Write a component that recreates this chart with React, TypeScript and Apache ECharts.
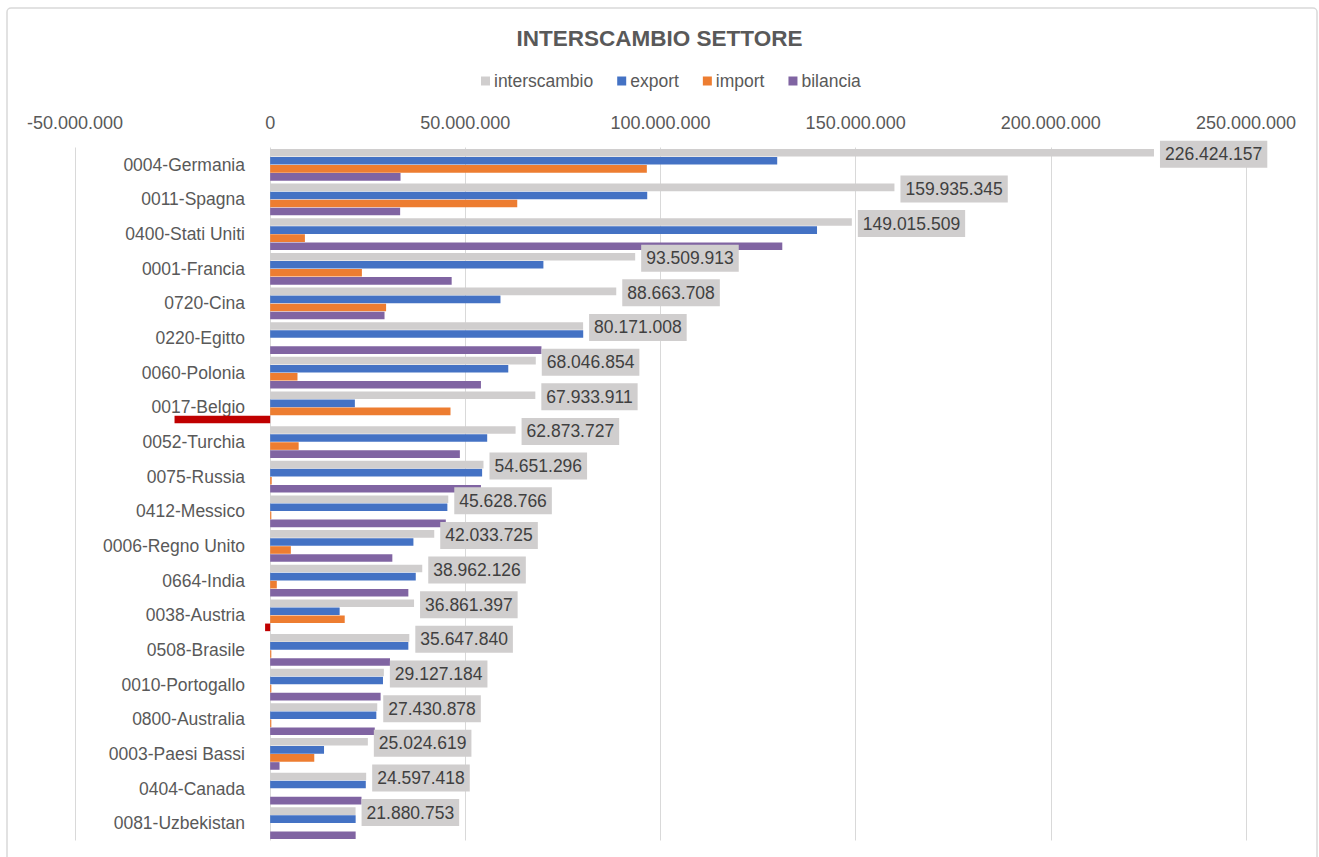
import React, { useEffect, useRef } from "react";
import * as echarts from "echarts";

const categories = [
  "0004-Germania", "0011-Spagna", "0400-Stati Uniti", "0001-Francia", "0720-Cina",
  "0220-Egitto", "0060-Polonia", "0017-Belgio", "0052-Turchia", "0075-Russia",
  "0412-Messico", "0006-Regno Unito", "0664-India", "0038-Austria", "0508-Brasile",
  "0010-Portogallo", "0800-Australia", "0003-Paesi Bassi", "0404-Canada", "0081-Uzbekistan",
];

const interscambio = [
  226424157, 159935345, 149015509, 93509913, 88663708, 80171008, 68046854, 67933911,
  62873727, 54651296, 45628766, 42033725, 38962126, 36861397, 35647840, 29127184,
  27430878, 25024619, 24597418, 21880753,
];

const exportVals = [
  129900000, 96600000, 140100000, 70000000, 59000000, 80200000, 61000000, 21700000,
  55600000, 54300000, 45400000, 36700000, 37300000, 17800000, 35400000, 28900000,
  27200000, 13800000, 24500000, 21900000,
];

const importVals = [
  96500000, 63300000, 8900000, 23500000, 29700000, 0, 7000000, 46200000,
  7300000, 400000, 300000, 5300000, 1700000, 19100000, 300000, 300000,
  300000, 11300000, 0, 0,
];

const bilancia = [
  33400000, 33300000, 131200000, 46500000, 29300000, 69500000, 54000000, -24500000,
  48600000, 54000000, 45000000, 31300000, 35400000, -1300000, 30700000, 28300000,
  26800000, 2400000, 23400000, 21900000,
];

const FONT = "'Liberation Sans', Arial, sans-serif";

const fmt = (v: number) =>
  Math.round(v).toString().replace(/\B(?=(\d{3})+(?!\d))/g, ".");

export default function App() {
  const ref = useRef<HTMLDivElement>(null);

  useEffect(() => {
    if (!ref.current) return;
    const chart = echarts.init(ref.current, undefined, { renderer: "svg" });
    const barW = 7.6;
    chart.setOption({
      animation: false,
      backgroundColor: "#ffffff",
      textStyle: { fontFamily: FONT },
      title: {
        text: "INTERSCAMBIO SETTORE",
        left: "center",
        top: 22,
        textStyle: { fontFamily: FONT, fontSize: 22.5, fontWeight: "bold", color: "#595959" },
      },
      legend: {
        top: 67,
        left: 476,
        icon: "rect",
        itemWidth: 9,
        itemHeight: 9,
        itemGap: 24,
        textStyle: { fontFamily: FONT, fontSize: 17.5, color: "#595959", padding: [0, 0, 0, -1] },
        data: ["interscambio", "export", "import", "bilancia"],
      },
      graphic: [
        {
          type: "rect",
          shape: { x: 7, y: 8, width: 1310, height: 870, r: 4 },
          style: { fill: "none", stroke: "#D9D9D9", lineWidth: 1.5 },
          silent: true,
        },
      ],
      grid: {
        left: 75,
        right: 73,
        top: 147.5,
        bottom: 16.5,
        containLabel: false,
        outerBoundsMode: "none",
      },
      xAxis: {
        type: "value",
        position: "top",
        min: -50000000,
        max: 250000000,
        interval: 50000000,
        axisLine: { show: false },
        axisTick: { show: false },
        splitLine: { lineStyle: { color: "#D9D9D9", width: 1 } },
        axisLabel: {
          fontFamily: FONT,
          fontSize: 18,
          color: "#595959",
          margin: 16,
          formatter: (v: number) => fmt(v),
        },
      },
      yAxis: {
        type: "category",
        inverse: true,
        data: categories,
        axisTick: { show: false },
        axisLine: { show: false },
        axisLabel: { fontFamily: FONT, fontSize: 17.5, color: "#595959", margin: -170 },
      },
      series: [
        {
          name: "interscambio",
          type: "bar",
          data: interscambio,
          barWidth: barW,
          barGap: "6%",
          itemStyle: { color: "#D0CECE" },
          label: {
            show: true,
            position: "right",
            distance: 6,
            formatter: (p: any) => fmt(p.value),
            fontFamily: FONT,
            fontSize: 17.5,
            color: "#404040",
            backgroundColor: "#D0CECE",
            padding: [5, 5, 4, 5],
            offset: [0, 1.5],
          },
          z: 3,
        },
        {
          name: "export",
          type: "bar",
          data: exportVals,
          barWidth: barW,
          barGap: "6%",
          itemStyle: { color: "#4472C4" },
          z: 2,
        },
        {
          name: "import",
          type: "bar",
          data: importVals,
          barWidth: barW,
          barGap: "6%",
          itemStyle: { color: "#ED7D31" },
          z: 2,
        },
        {
          name: "bilancia",
          type: "bar",
          data: bilancia.map((v) => (v < 0 ? { value: v, itemStyle: { color: "#C00000" } } : v)),
          barWidth: barW,
          barGap: "6%",
          itemStyle: { color: "#8064A2" },
          z: 2,
        },
      ],
    });
    return () => chart.dispose();
  }, []);

  return (
    <div
      ref={ref}
      style={{ position: "fixed", left: 0, top: 0, width: 1319, height: 857, background: "#fff" }}
    />
  );
}
